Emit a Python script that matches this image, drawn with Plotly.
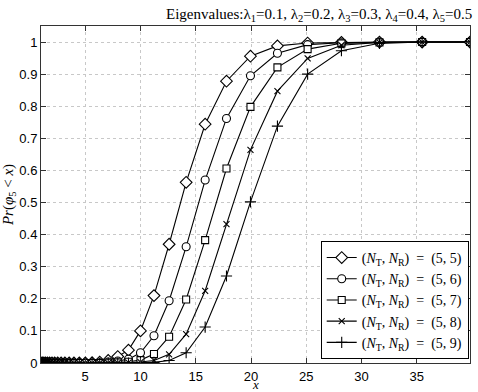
import plotly.graph_objects as go

x_vals = [1.0, 1.122, 1.259, 1.413, 1.585, 1.778, 1.995, 2.239, 2.512, 2.818,
          3.162, 3.548, 3.981, 4.467, 5.012, 5.623, 6.310, 7.079, 7.943, 8.913,
          10.0, 11.22, 12.59, 14.13, 15.85, 17.78, 19.95, 22.39, 25.12, 28.18,
          31.62, 35.48, 39.81]

p55 = [0, 0, 0, 0, 0, 0, 0, 0, 0, 0, 0, 0, 0, 0, 0, 0.001, 0.003, 0.008,
       0.02, 0.04, 0.10, 0.21, 0.37, 0.563, 0.744, 0.878, 0.956, 0.988,
       0.997, 0.999, 1.0, 1.0, 1.0]
p56 = [0, 0, 0, 0, 0, 0, 0, 0, 0, 0, 0, 0, 0, 0, 0, 0, 0.001, 0.003,
       0.006, 0.012, 0.032, 0.085, 0.194, 0.362, 0.570, 0.762, 0.895, 0.965,
       0.992, 0.998, 1.0, 1.0, 1.0]
p57 = [0, 0, 0, 0, 0, 0, 0, 0, 0, 0, 0, 0, 0, 0, 0, 0, 0, 0.001,
       0.002, 0.004, 0.009, 0.028, 0.082, 0.198, 0.383, 0.606, 0.798, 0.921,
       0.978, 0.996, 0.999, 1.0, 1.0]
p58 = [0, 0, 0, 0, 0, 0, 0, 0, 0, 0, 0, 0, 0, 0, 0, 0, 0, 0,
       0, 0.001, 0.003, 0.008, 0.027, 0.090, 0.225, 0.433, 0.664, 0.847,
       0.949, 0.990, 0.999, 1.0, 1.0]
p59 = [0, 0, 0, 0, 0, 0, 0, 0, 0, 0, 0, 0, 0, 0, 0, 0, 0, 0,
       0, 0, 0.001, 0.002, 0.008, 0.032, 0.112, 0.271, 0.502, 0.738,
       0.900, 0.973, 0.996, 1.0, 1.0]

series_names = ["(<i>N</i><sub>T</sub>, <i>N</i><sub>R</sub>) &nbsp;= &nbsp;(5, 5)",
                "(<i>N</i><sub>T</sub>, <i>N</i><sub>R</sub>) &nbsp;= &nbsp;(5, 6)",
                "(<i>N</i><sub>T</sub>, <i>N</i><sub>R</sub>) &nbsp;= &nbsp;(5, 7)",
                "(<i>N</i><sub>T</sub>, <i>N</i><sub>R</sub>) &nbsp;= &nbsp;(5, 8)",
                "(<i>N</i><sub>T</sub>, <i>N</i><sub>R</sub>) &nbsp;= &nbsp;(5, 9)"]
series_vals = [p55, p56, p57, p58, p59]
symbols = ["diamond", "circle", "square", "x-thin-open", "cross-thin-open"]
fills = ["white", "white", "white", "black", "black"]
sizes = [9, 8, 7, 6, 8]

x_ticks = [5, 10, 15, 20, 25, 30, 35]
y_ticks = [0, 0.1, 0.2, 0.3, 0.4, 0.5, 0.6, 0.7, 0.8, 0.9, 1]
y_ticklabels = ["0", "0.1", "0.2", "0.3", "0.4", "0.5", "0.6", "0.7", "0.8", "0.9", "1"]

fig = go.Figure()
for name, vals, sym, fc, sz in zip(series_names, series_vals, symbols, fills, sizes):
    fig.add_trace(go.Scatter(
        x=x_vals, y=vals, name=name, mode="lines+markers",
        line=dict(color="black", width=1.1),
        marker=dict(symbol=sym, size=sz, color=fc,
                    line=dict(color="black", width=1.1)),
    ))

axis_common = dict(
    showline=True, linecolor="#333333", linewidth=1, mirror="allticks",
    ticks="inside", ticklen=5, tickcolor="#333333",
    showgrid=True, gridcolor="#c8c8c8", griddash="dot", gridwidth=1,
    zeroline=False,
    tickfont=dict(family="Liberation Sans, Arial, sans-serif", size=13, color="black"),
)

fig.update_xaxes(range=[1, 39.81], tickvals=x_ticks, ticklabelstandoff=1,
                 **axis_common)
fig.update_yaxes(range=[0, 1.05], tickvals=y_ticks, ticktext=y_ticklabels,
                 title=dict(text="<i>Pr</i>(<i>φ</i><sub>5</sub> &lt; <i>x</i>)", standoff=5,
                            font=dict(family="Liberation Serif, serif", size=15, color="black")),
                 **axis_common)

fig.add_annotation(
    text="<i>x</i>", xref="paper", yref="paper", x=0.5, y=0,
    xanchor="center", yanchor="bottom", yshift=-30, showarrow=False,
    borderpad=0,
    font=dict(family="Liberation Serif, serif", size=13, color="black"),
)

fig.add_annotation(
    text="Eigenvalues:λ<sub>1</sub>=0.1, λ<sub>2</sub>=0.2, λ<sub>3</sub>=0.3, λ<sub>4</sub>=0.4, λ<sub>5</sub>=0.5",
    xref="paper", yref="paper", x=1.008, y=1.0, xanchor="right", yanchor="bottom",
    yshift=1, showarrow=False, borderpad=0,
    font=dict(family="Liberation Serif, serif", size=15, color="black"),
)

fig.update_layout(
    width=478, height=392,
    margin=dict(l=41, r=8, t=26, b=29, autoexpand=False),
    paper_bgcolor="white", plot_bgcolor="white",
    showlegend=True,
    legend=dict(x=0.997, y=0.012, xanchor="right", yanchor="bottom",
                bgcolor="white", bordercolor="black", borderwidth=1,
                font=dict(family="Liberation Serif, serif", size=14, color="black"),
                tracegroupgap=0, itemwidth=30),
)

fig.write_html("out.html", config={"displayModeBar": False},
               post_script="document.body.style.margin='0';")
